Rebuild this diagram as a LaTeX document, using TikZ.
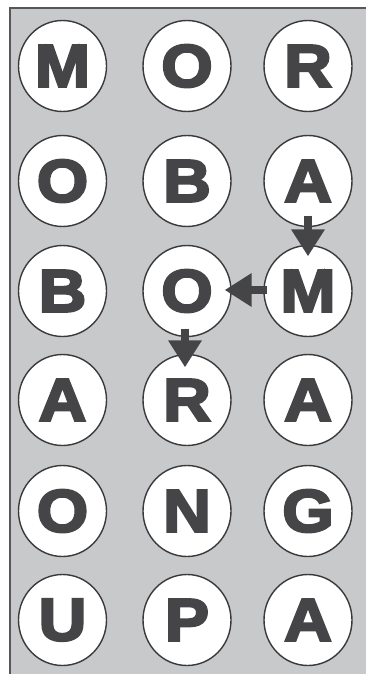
\documentclass[tikz,border=0pt]{standalone}
\usepackage{fontspec}
\setmainfont{Liberation Sans}[BoldFeatures={FakeBold=4,FakeStretch=1.1}]
\usetikzlibrary{shapes.geometric,arrows.meta}
\definecolor{bggray}{HTML}{C8C9CB}
\definecolor{ink}{HTML}{454547}
\definecolor{rim}{HTML}{3A3A3C}
\tikzset{
  letterball/.style={ellipse, draw=rim, line width=1.4pt, fill=white, inner sep=0pt,
    minimum width=88pt, minimum height=91pt, text=ink,
    font=\fontsize{60}{60}\selectfont\bfseries},
  patharrow/.style={draw=ink, line width=8pt,
    -{Triangle[width=32pt,length=27pt]}, fill=ink}
}
\begin{document}
\begin{tikzpicture}[x=1pt,y=-1pt]
\useasboundingbox (0,0) rectangle (366,674);
\fill[white] (0,0) rectangle (366,674);
\fill[bggray] (10,8) rectangle (380,690);
\draw[rim!85, line width=2pt] (10,690) -- (10,8) -- (380,8);
% grid of letters
\node[letterball] (a11) at (62.5,66) {M};
\node[letterball] (a12) at (187,66) {O};
\node[letterball] (a13) at (308,66) {R};
\node[letterball] (a21) at (62.5,181) {O};
\node[letterball] (a22) at (187,181) {B};
\node[letterball] (a23) at (308,181) {A};
\node[letterball] (a31) at (62.5,291) {B};
\node[letterball] (a32) at (187,291) {O};
\node[letterball] (a33) at (308,291) {M};
\node[letterball] (a41) at (62.5,400) {A};
\node[letterball] (a42) at (187,400) {R};
\node[letterball] (a43) at (308,400) {A};
\node[letterball] (a51) at (62.5,511) {O};
\node[letterball] (a52) at (187,511) {N};
\node[letterball] (a53) at (308,511) {G};
\node[letterball] (a61) at (62.5,620) {U};
\node[letterball] (a62) at (187,620) {P};
\node[letterball] (a63) at (308,620) {A};
% arrows
\draw[patharrow] ([yshift=11.5pt]a23.south) -- ([yshift=-11.5pt]a33.north);
\draw[patharrow] ([xshift=4pt,yshift=1pt]a33.west) -- ([xshift=-7pt,yshift=1pt]a32.east);
\draw[patharrow] ([xshift=-2pt,yshift=8.5pt]a32.south) -- ([xshift=-2pt,yshift=-13.5pt]a42.north);
\end{tikzpicture}
\end{document}
